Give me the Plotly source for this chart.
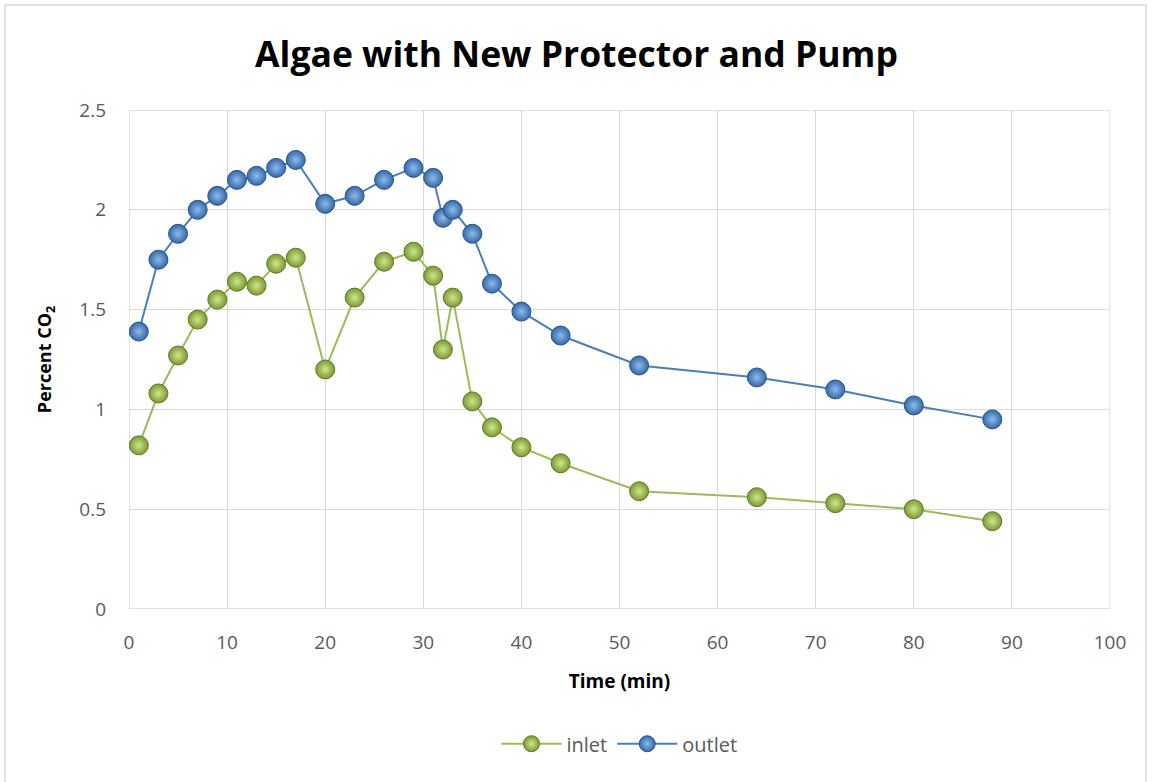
import plotly.graph_objects as go

time_min = [1, 3, 5, 7, 9, 11, 13, 15, 17, 20, 23, 26, 29, 31, 32, 33, 35, 37, 40, 44, 52, 64, 72, 80, 88]
inlet = [0.82, 1.08, 1.27, 1.45, 1.55, 1.64, 1.62, 1.73, 1.76, 1.20, 1.56, 1.74, 1.79, 1.67, 1.30, 1.56,
         1.04, 0.91, 0.81, 0.73, 0.59, 0.56, 0.53, 0.50, 0.44]
outlet = [1.39, 1.75, 1.88, 2.00, 2.07, 2.15, 2.17, 2.21, 2.25, 2.03, 2.07, 2.15, 2.21, 2.16, 1.96, 2.00,
          1.88, 1.63, 1.49, 1.37, 1.22, 1.16, 1.10, 1.02, 0.95]

fig = go.Figure()
fig.add_trace(go.Scatter(
    x=time_min, y=inlet, name="inlet", mode="lines+markers",
    line=dict(color="#9BBB59", width=2),
    marker=dict(size=19, color="#7A9A33", gradient=dict(type="radial", color="#D2E68E"),
                line=dict(color="#5F7A24", width=1)),
))
fig.add_trace(go.Scatter(
    x=time_min, y=outlet, name="outlet", mode="lines+markers",
    line=dict(color="#4A7EBB", width=2),
    marker=dict(size=19, color="#3468A8", gradient=dict(type="radial", color="#8FBBEA"),
                line=dict(color="#29558A", width=1)),
))

fig.update_layout(
    width=1153, height=782,
    margin=dict(l=129, r=43, t=110, b=173),
    paper_bgcolor="white", plot_bgcolor="white",
    font=dict(family="Open Sans, Liberation Sans, sans-serif", color="#595959"),
    title=dict(text="<b>Algae with New Protector and Pump</b>", x=0.5, xanchor="center",
               y=0.93, yanchor="middle", font=dict(size=35.5, color="black")),
    xaxis=dict(range=[0, 100], dtick=10, showgrid=True, gridcolor="#D9D9D9", gridwidth=1.3,
               zeroline=False, showline=False, ticks="", tickfont=dict(size=19),
               ticklabelstandoff=20,
               title=dict(text="<b>Time (min)</b>", font=dict(size=19, color="black"), standoff=20)),
    yaxis=dict(range=[0, 2.5], dtick=0.5, showgrid=True, gridcolor="#D9D9D9", gridwidth=1.3,
               zeroline=False, showline=False, ticks="", tickfont=dict(size=19),
               ticklabelstandoff=22,
               title=dict(text="<b>Percent CO<sub>2</sub></b>", font=dict(size=18, color="black"), standoff=22)),
    legend=dict(orientation="h", x=0.5, xanchor="center", y=-0.27, yanchor="middle",
                font=dict(size=20, color="#595959"), itemwidth=60),
    showlegend=True,
)
for (x0, x1, y0, y1) in [(100, 100, 0, 2.5), (0, 100, 0, 0), (0, 100, 2.5, 2.5), (0, 0, 0, 2.5)]:
    fig.add_shape(type="line", xref="x", yref="y", x0=x0, x1=x1, y0=y0, y1=y1,
                  line=dict(color="#D9D9D9", width=1.3), layer="below")
# chart-area border (pixels converted to paper coordinates)
fig.add_shape(type="rect", xref="paper", yref="paper",
              x0=(5 - 129) / 981, x1=(1146 - 129) / 981,
              y0=(609 - 786) / 499, y1=(609 - 5) / 499,
              line=dict(color="#D9D9D9", width=1.5), fillcolor="rgba(0,0,0,0)")

fig.write_html("out.html")
